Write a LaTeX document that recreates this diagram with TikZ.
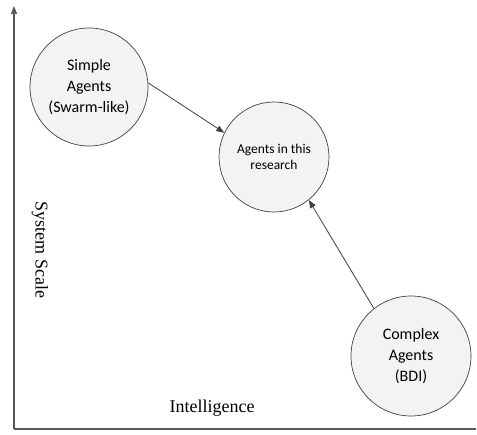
\documentclass[tikz,border=0pt]{standalone}
\usepackage{fontspec}
\setmainfont{Liberation Serif}
\newfontfamily\calib{Carlito}
\usetikzlibrary{arrows.meta}
\definecolor{axisgray}{HTML}{595959}
\definecolor{linegray}{HTML}{404040}
\definecolor{circfill}{HTML}{F3F3F3}
\begin{document}
\begin{tikzpicture}[x=1pt,y=-1pt,
  agent/.style={circle, draw=linegray, line width=0.7pt, fill=circfill, align=center,
    font=\calib\fontsize{16}{21}\selectfont, inner sep=0pt},
  link/.style={draw=linegray, line width=0.8pt, -{Triangle[length=8pt,width=6pt]}},
  axis/.style={draw=axisgray, line width=1.3pt},
  axlabel/.style={font=\fontsize{18}{20}\selectfont}]
\useasboundingbox (0,0) rectangle (477,435);
\coordinate (o) at (14,429);
\coordinate (ytop) at (14,6);
\coordinate (xend) at (476,429);
\draw[axis, -{Triangle[length=8pt,width=6pt]}] (o) -- (ytop);
\draw[axis] (o) -- (xend);
\node[agent, minimum size=118pt] (simple) at (89,87) {Simple\\Agents\\(Swarm-like)};
\node[agent, minimum size=110pt, font=\calib\fontsize{13.5}{16}\selectfont] (res) at (274,157) {Agents in this\\research};
\node[agent, minimum size=120pt] (complex) at (411,356) {Complex\\Agents\\(BDI)};
\draw[link] (simple.4) -- (res.154);
\draw[link] (complex.128) -- (res.-51);
\node[axlabel, rotate=-90] (ylab) at (40,250) {System Scale};
\node[axlabel] (xlab) at (212,408) {Intelligence};
\end{tikzpicture}
\end{document}
